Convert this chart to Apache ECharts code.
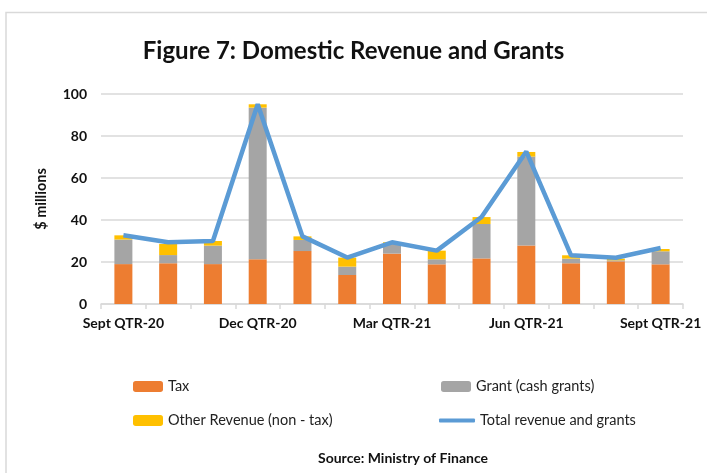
<!DOCTYPE html>
<html><head><meta charset="utf-8">
<script src="https://cdn.jsdelivr.net/npm/echarts@6/dist/echarts.min.js"></script>
<style>html,body{margin:0;padding:0;background:#fff}#c{width:707px;height:473px}</style>
</head><body><div id="c"></div>
<script>
const categories = ["Sept QTR-20","Oct-20","Nov-20","Dec QTR-20","Jan-21","Feb-21","Mar QTR-21","Apr-21","May-21","Jun QTR-21","Jul-21","Aug-21","Sept QTR-21"];
const tax   = [19.0, 19.4, 19.0, 21.3, 25.2, 13.8, 24.0, 18.9, 21.7, 27.8, 19.4, 20.3, 18.9];
const grant = [11.7,  3.9,  8.8, 72.2,  5.3,  4.0,  4.6,  2.4, 16.4, 42.4,  2.2,  0.5,  6.2];
const other = [ 2.0,  5.3,  2.2,  1.6,  1.7,  4.3,  0.8,  4.1,  3.3,  2.2,  1.6,  0.8,  1.1];
const total = [32.7, 29.4, 30.0, 95.1, 32.2, 22.1, 29.4, 25.4, 41.4, 72.6, 23.2, 22.0, 26.7];
const yTicks = [0, 20, 40, 60, 80, 100];

const FONT = "Lato";
const chart = echarts.init(document.getElementById('c'), null, {renderer:'canvas'});
const legendBase = {itemWidth:30, itemHeight:11, itemGap:10, textStyle:{fontFamily:FONT, fontSize:14.5, color:'#222'}};
chart.setOption({
  animation:false,
  backgroundColor:'#fff',
  title:[
    {text:'Figure 7: Domestic Revenue and Grants', left:'center', top:34, textStyle:{fontFamily:FONT, fontSize:24, fontWeight:'bold', color:'#111'}},
    {text:'Source: Ministry of Finance', left:398, textAlign:'center', top:446, textStyle:{fontFamily:FONT, fontSize:14, fontWeight:'bold', color:'#111'}}
  ],
  graphic:[{type:'rect', shape:{x:6, y:12.5, width:720, height:480}, style:{fill:'none', stroke:'#d9d9d9', lineWidth:1.5}, silent:true}],
  legend:[
    Object.assign({}, legendBase, {data:['Tax'], left:128, top:374}),
    Object.assign({}, legendBase, {data:['Grant (cash grants)'], left:436, top:374}),
    Object.assign({}, legendBase, {data:['Other Revenue (non - tax)'], left:128, top:408}),
    Object.assign({}, legendBase, {data:[{name:'Total revenue and grants', icon:'roundRect'}], left:434, top:408, itemWidth:36, itemHeight:4, itemGap:2})
  ],
  grid:{left:101, right:24, top:94, bottom:169},
  xAxis:{
    type:'category', data:categories, boundaryGap:true,
    axisLine:{lineStyle:{color:'#d9d9d9', width:1.5}},
    axisTick:{show:true, interval:0, length:5, lineStyle:{color:'#d9d9d9', width:1.5}},
    axisLabel:{interval:2, margin:12, fontFamily:FONT, fontSize:14, fontWeight:'bold', color:'#111'}
  },
  yAxis:{
    type:'value', min:yTicks[0], max:yTicks[yTicks.length-1], interval:20,
    name:'$ millions', nameLocation:'middle', nameGap:52, nameRotate:90,
    nameTextStyle:{fontFamily:FONT, fontSize:14.5, fontWeight:'bold', color:'#111'},
    axisLine:{show:false}, axisTick:{show:false},
    axisLabel:{margin:14, fontFamily:FONT, fontSize:14, fontWeight:'bold', color:'#111'},
    splitLine:{lineStyle:{color:'#d9d9d9', width:1.5}}
  },
  series:[
    {name:'Tax', type:'bar', stack:'s', data:tax, barWidth:18, itemStyle:{color:'#ED7D31'}},
    {name:'Grant (cash grants)', type:'bar', stack:'s', data:grant, barWidth:18, itemStyle:{color:'#A5A5A5'}},
    {name:'Other Revenue (non - tax)', type:'bar', stack:'s', data:other, barWidth:18, itemStyle:{color:'#FFC000'}},
    {name:'Total revenue and grants', type:'line', data:total, symbol:'none', lineStyle:{color:'#5B9BD5', width:4.5}, itemStyle:{color:'#5B9BD5'}, z:5}
  ]
});
</script></body></html>
